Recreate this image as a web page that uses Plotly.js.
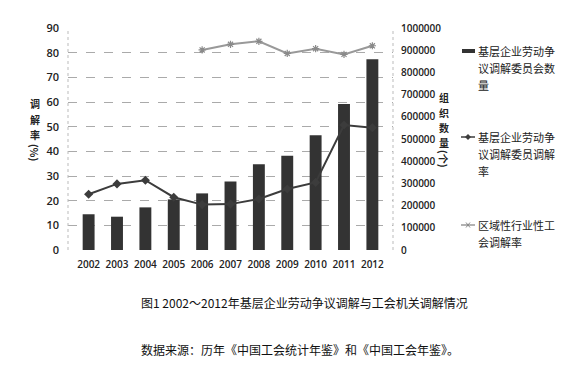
<!DOCTYPE html>
<html><head><meta charset="utf-8">
<script src="https://cdn.plot.ly/plotly-3.0.1.min.js"></script>
<style>body{margin:0;background:#fff}#c{width:570px;height:365px}</style>
</head><body><div id="c"></div>
<script>
const years = ['2002','2003','2004','2005','2006','2007','2008','2009','2010','2011','2012'];
const orgCount = [161000,150000,192000,228000,255000,308000,386000,425000,517000,658000,859000];
const enterpriseRate = [22.6,26.8,28.3,21.4,18.4,18.6,20.7,24.7,27.4,50.7,49.6];
const regionalYears = ['2006','2007','2008','2009','2010','2011','2012'];
const regionalRate = [81.1,83.4,84.6,79.7,81.6,79.3,82.8];
const legendLines = [
  ['基层企业劳动争','议调解委员会数','量'],
  ['基层企业劳动争','议调解委员调解','率'],
  ['区域性行业性工','会调解率']
];
const leftTitle = ['调','解','率','(%)'];
const rightTitle = ['组','织','数','量','(个)'];

const tickFont = {family:'Open Sans, Noto Sans, sans-serif', size:10, color:'#222', weight:600};
const cjk = 'Noto Sans CJK SC, Noto Sans, sans-serif';
const barColor = '#333333', line1Color = '#3c3c3c', line2Color = '#999999';

const data = [
  {type:'bar', x:years, y:orgCount, name:legendLines[0].join(''), yaxis:'y',
   marker:{color:barColor, line:{width:0}}, width:0.42},
  {type:'scatter', mode:'lines+markers', x:years, y:enterpriseRate, name:legendLines[1].join(''), yaxis:'y2',
   line:{color:line1Color, width:2}, marker:{symbol:'diamond', size:7, color:line1Color}},
  {type:'scatter', mode:'lines+markers', x:regionalYears, y:regionalRate, name:legendLines[2].join(''), yaxis:'y2',
   line:{color:line2Color, width:2}, marker:{symbol:'asterisk-open', size:6, color:'#8a8a8a', line:{width:1.2, color:'#8a8a8a'}}}
];

// plot area: x 68..393, y 28..250 (px)
const px = x => (x - 68) / 325;
const py = y => (250 - y) / 222;
const ann = [];
const shapes = [
  {type:'line', xref:'paper', yref:'paper', x0:0, x1:0, y0:0, y1:1, line:{color:'#bbbbbb', width:1, dash:'dot'}},
  {type:'line', xref:'paper', yref:'paper', x0:1, x1:1, y0:0, y1:1, line:{color:'#bbbbbb', width:1, dash:'dot'}}
];
const titleFont = {family:cjk, size:10, color:'#222', weight:'bold'};
const leftY = [104, 119, 134, 152];
leftTitle.forEach((t, i) => ann.push({text:t, xref:'paper', yref:'paper', x:px(35), y:py(leftY[i]),
  xanchor:'center', yanchor:'middle', showarrow:false, textangle: t.length > 1 ? 90 : 0, font:titleFont}));
const rightY = [97, 112, 127, 142, 159];
rightTitle.forEach((t, i) => ann.push({text:t, xref:'paper', yref:'paper', x:px(444), y:py(rightY[i]),
  xanchor:'center', yanchor:'middle', showarrow:false, textangle: t.length > 1 ? 90 : 0, font:titleFont}));

// legend (drawn manually to match the reference's compact symbols)
const legTop = [51, 137, 225];
const legFont = {family:cjk, size:11, color:'#222'};
legendLines.forEach((lines, k) => {
  lines.forEach((t, j) => ann.push({text:t, xref:'paper', yref:'paper', x:px(476), y:py(legTop[k] + j*17),
    xanchor:'left', yanchor:'middle', showarrow:false, font:legFont}));
});
// symbols
shapes.push({type:'rect', xref:'paper', yref:'paper', x0:px(462), x1:px(475), y0:py(53), y1:py(49),
  fillcolor:barColor, line:{width:0}});
shapes.push({type:'line', xref:'paper', yref:'paper', x0:px(461), x1:px(475), y0:py(137), y1:py(137),
  line:{color:line1Color, width:1.5}});
shapes.push({type:'path', xref:'paper', yref:'paper',
  path:`M ${px(468)} ${py(134)} L ${px(471)} ${py(137)} L ${px(468)} ${py(140)} L ${px(465)} ${py(137)} Z`,
  fillcolor:line1Color, line:{width:0}});
shapes.push({type:'line', xref:'paper', yref:'paper', x0:px(461), x1:px(475), y0:py(225), y1:py(225),
  line:{color:line2Color, width:1.5}});
shapes.push({type:'line', xref:'paper', yref:'paper', x0:px(466), x1:px(470), y0:py(222.5), y1:py(227.5),
  line:{color:'#8a8a8a', width:1}});
shapes.push({type:'line', xref:'paper', yref:'paper', x0:px(466), x1:px(470), y0:py(227.5), y1:py(222.5),
  line:{color:'#8a8a8a', width:1}});

ann.push({text:'图1 2002～2012年基层企业劳动争议调解与工会机关调解情况', xref:'paper', yref:'paper', x:px(304), y:py(302),
  xanchor:'center', yanchor:'middle', showarrow:false, font:{family:cjk, size:12, color:'#111'}});
ann.push({text:'数据来源：历年《中国工会统计年鉴》和《中国工会年鉴》。', xref:'paper', yref:'paper', x:px(300), y:py(349),
  xanchor:'center', yanchor:'middle', showarrow:false, font:{family:cjk, size:12, color:'#111'}});

const layout = {
  width:570, height:365,
  margin:{l:68, r:177, t:28, b:115, autoexpand:false},
  paper_bgcolor:'#fff', plot_bgcolor:'rgba(0,0,0,0)',
  showlegend:false,
  xaxis:{type:'category', tickfont:tickFont, showgrid:false, zeroline:false, showline:false, ticks:'', ticklabelstandoff:7},
  yaxis:{side:'right', range:[0,1000000], dtick:100000, tickfont:tickFont, showgrid:false, zeroline:false,
    showline:false, ticks:'', tickformat:'d', ticklabelstandoff:7},
  yaxis2:{overlaying:'y', side:'left', range:[0,90], dtick:10, tickfont:{...tickFont, size:11},
    showgrid:true, gridcolor:'#aaaaaa', griddash:'dash', gridwidth:1, zeroline:false, showline:false, ticks:'', ticklabelstandoff:8},
  shapes:shapes,
  annotations:ann
};
Plotly.newPlot('c', data, layout, {displayModeBar:false, staticPlot:true});
</script></body></html>
